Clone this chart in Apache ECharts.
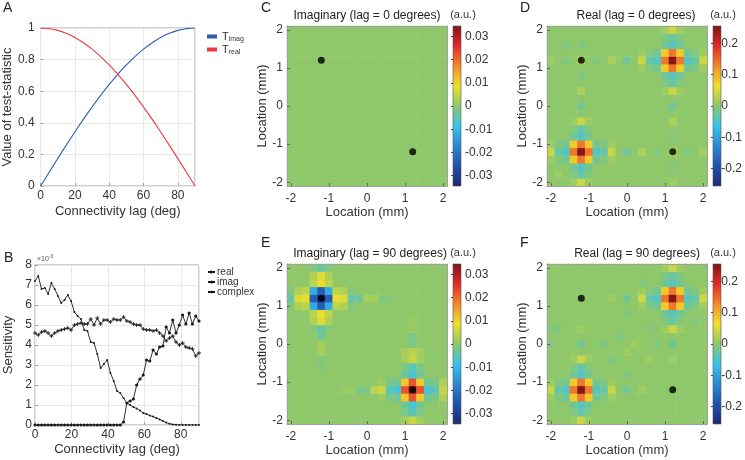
<!DOCTYPE html>
<html><head><meta charset="utf-8">
<script src="https://cdn.jsdelivr.net/npm/echarts@6/dist/echarts.min.js"></script>
<style>html,body{margin:0;padding:0;background:#fff}#c{width:745px;height:460px}</style>
</head><body><div id="c"></div>
<script>
// ---------------- DATA ----------------
// Panel A: test statistic vs connectivity lag
const lagA  = [0,5,10,15,20,25,30,35,40,45,50,55,60,65,70,75,80,85,90];
const tImag = [0,0.087,0.174,0.259,0.342,0.423,0.500,0.574,0.643,0.707,0.766,0.819,0.866,0.906,0.940,0.966,0.985,0.996,1.000];
const tReal = [1.000,0.996,0.985,0.966,0.940,0.906,0.866,0.819,0.766,0.707,0.643,0.574,0.500,0.423,0.342,0.259,0.174,0.087,0];

// Panel B: sensitivity (x 10^-3) vs connectivity lag
const lagB = [0,1.8,3.6,5.4,7.2,9,10.8,12.6,14.4,16.2,18,19.8,21.6,23.4,25.2,27,28.8,30.6,32.4,34.2,36,37.8,39.6,41.4,43.2,45,46.8,48.6,50.4,52.2,54,55.8,57.6,59.4,61.2,63,64.8,66.6,68.4,70.2,72,73.8,75.6,77.4,79.2,81,82.8,84.6,86.4,88.2,90];
const sensReal = [7.2,7.45,6.8,6.85,6.55,7.1,6.8,6.45,6.1,6.25,6.5,6.2,5.65,5.45,5.3,4.75,4.7,4.15,4.1,3.55,2.85,3.05,3.25,2.6,2.2,1.7,1.6,1.35,1.1,1.0,0.9,0.82,0.72,0.6,0.55,0.47,0.42,0.35,0.28,0.2,0.12,0.06,0.03,0.01,0,0,0,0,0,0,0];
const sensImag = [0,0,0,0,0,0,0,0,0,0,0,0,0,0,0,0,0,0,0,0,0,0,0,0,0,0,0,0.15,1.1,1.2,1.3,2.0,2.3,2.5,3.25,3.2,3.75,3.55,3.9,3.95,4.9,4.6,5.25,4.6,5.0,5.5,5.05,5.6,5.05,5.45,5.2];
const sensComplex = [4.6,4.5,4.65,4.7,4.6,4.45,4.6,4.7,4.75,4.8,4.85,4.75,5.0,5.05,5.1,5.05,5.05,5.3,5.0,5.35,5.05,5.25,5.25,5.15,5.3,5.25,5.25,5.4,5.2,5.15,5.05,5.0,5.0,4.8,4.75,4.75,4.7,4.75,4.6,4.45,4.2,4.35,4.45,4.15,4.0,4.1,3.9,3.85,3.8,3.45,3.6];

// Maps: cell centres (mm), 21 x 21, rows listed from top (y = 2.0) to bottom (y = -2.0)
const cellLoc = [-2.0,-1.8,-1.6,-1.4,-1.2,-1.0,-0.8,-0.6,-0.4,-0.2,0,0.2,0.4,0.6,0.8,1.0,1.2,1.4,1.6,1.8,2.0];
const locTicks = [-2,-1,0,1,2];
const sourceDots = [[-1.2,1.2],[1.2,-1.2]];
const cbTicksImag = [-0.03,-0.02,-0.01,0,0.01,0.02,0.03];
const cbTicksReal = [-0.2,-0.1,0,0.1,0.2];
const IMAG_UNIT = 0.001;  // imaginary maps listed in 10^-3 a.u.
const REAL_UNIT = 0.01;   // real maps listed in 10^-2 a.u.

// C: Imaginary, lag = 0 (x 10^-3)
const imagLag0 = [
[0,0,0,0,0,0,0,0,0,0,0,0,0,0,0,0,0,0,0,0,0],
[0,0,0,0,0,0,0,0,0,0,0,0,0,0,0,0,0,0,0,0,0],
[0,0,0,0,0,0,0,0,0,0,0,0,0,0,0,0,0,0,0,0,0],
[0,0,0,0,0,0,0,0,0,0,0,0,0,0,0,0,0,0,0,0,0],
[0,0,0,0,0,0,0,0,0,0,0,0,0,0,0,0,0,0,0,0,0],
[0,0,0,0,0,0,0,0,0,0,0,0,0,0,0,0,0,0,0,0,0],
[0,0,0,0,0,0,0,0,0,0,0,0,0,0,0,0,0,0,0,0,0],
[0,0,0,0,0,0,0,0,0,0,0,0,0,0,0,0,0,0,0,0,0],
[0,0,0,0,0,0,0,0,0,0,0,0,0,0,0,0,0,0,0,0,0],
[0,0,0,0,0,0,0,0,0,0,0,0,0,0,0,0,0,0,0,0,0],
[0,0,0,0,0,0,0,0,0,0,0,0,0,0,0,0,0,0,0,0,0],
[0,0,0,0,0,0,0,0,0,0,0,0,0,0,0,0,0,0,0,0,0],
[0,0,0,0,0,0,0,0,0,0,0,0,0,0,0,0,0,0,0,0,0],
[0,0,0,0,0,0,0,0,0,0,0,0,0,0,0,0,0,0,0,0,0],
[0,0,0,0,0,0,0,0,0,0,0,0,0,0,0,0,0,0,0,0,0],
[0,0,0,0,0,0,0,0,0,0,0,0,0,0,0,0,0,0,0,0,0],
[0,0,0,0,0,0,0,0,0,0,0,0,0,0,0,0,0,0,0,0,0],
[0,0,0,0,0,0,0,0,0,0,0,0,0,0,0,0,0,0,0,0,0],
[0,0,0,0,0,0,0,0,0,0,0,0,0,0,0,0,0,0,0,0,0],
[0,0,0,0,0,0,0,0,0,0,0,0,0,0,0,0,0,0,0,0,0],
[0,0,0,0,0,0,0,0,0,0,0,0,0,0,0,0,0,0,0,0,0]];

// D: Real, lag = 0 (x 10^-2)
const realLag0 = [
[0,0,0,0,0,0,0,0,0,0,0,0,0,0,0,1,4,1,0,0,0],
[0,0,0,0,0,0,0,0,0,0,0,0,0,0,0,-1,-3,-1,0,0,0],
[0,0,-1,0,-1,0,0,0,0,0,0,0,0,0,0,-2,-4,-2,0,0,0],
[0,0,0,0,0,0,0,0,0,0,0,0,1,-1,-2,8,14,8,-2,-1,1],
[1,0,-1,0,3,0,-1,0,2,0,-2,0,4,-3,-4,14,25,14,-4,-3,4],
[0,0,0,0,0,0,0,0,0,0,0,0,1,-1,-2,8,14,8,-2,-1,1],
[0,0,0,0,-1,0,0,0,0,0,0,0,0,0,0,-2,-4,-2,0,0,0],
[0,0,0,0,0,0,0,0,0,0,0,0,0,0,0,-1,-3,-1,0,0,0],
[0,0,0,0,2,0,0,0,0,0,0,0,0,0,0,1,4,1,0,0,0],
[0,0,0,0,0,0,0,0,0,0,0,0,0,0,0,0,0,0,0,0,0],
[0,0,0,0,-2,0,0,0,0,0,0,0,0,0,0,0,-2,0,0,0,0],
[0,0,0,0,0,0,0,0,0,0,0,0,0,0,0,0,0,0,0,0,0],
[0,0,0,1,4,1,0,0,0,0,0,0,0,0,0,0,2,0,0,0,0],
[0,0,0,-1,-3,-1,0,0,0,0,0,0,0,0,0,0,0,0,0,0,0],
[0,0,0,-2,-4,-2,0,0,0,0,0,0,0,0,0,0,-1,0,0,0,0],
[1,-1,-2,8,14,8,-2,-1,1,0,0,0,0,0,0,0,0,0,0,0,0],
[4,-3,-4,14,25,14,-4,-3,4,0,-2,0,2,0,-1,0,3,0,-1,0,1],
[1,-1,-2,8,14,8,-2,-1,1,0,0,0,0,0,0,0,0,0,0,0,0],
[0,0,0,-2,-4,-2,0,0,0,0,0,0,0,0,0,0,-1,0,0,0,0],
[0,1,0,-1,-3,-1,0,0,0,0,0,0,0,0,0,0,0,0,0,0,0],
[0,0,0,1,4,1,0,0,0,0,0,0,0,0,0,0,1,0,0,0,0]];

// E: Imaginary, lag = 90 (x 10^-3)
const imagLag90 = [
[0,0,0,-1,-4,-1,0,0,0,0,0,0,0,0,0,0,0,0,0,0,0],
[0,0,0,3,7,3,0,0,0,0,0,0,0,0,0,0,0,0,0,0,0],
[0,0,0,4,8,4,0,0,0,0,0,0,0,0,0,0,0,0,0,0,0],
[-1,3,4,-12,-24,-12,4,3,-1,0,0,0,0,0,0,0,0,0,0,0,0],
[-4,7,8,-24,-33,-24,8,7,-4,-3,2,2,-1,-1,0,0,0,0,0,0,0],
[-1,3,4,-12,-24,-12,4,3,-1,0,0,0,0,0,0,0,0,0,0,0,0],
[0,0,0,4,8,4,0,0,0,0,0,0,0,0,0,0,0,0,0,0,0],
[0,0,0,3,7,3,0,0,0,0,0,0,0,0,0,0,1,0,0,0,0],
[0,0,0,-1,-4,-1,0,0,0,0,0,0,0,0,0,0,1,0,0,0,0],
[0,0,0,0,-3,0,0,0,0,0,0,0,0,0,0,0,-2,0,0,0,0],
[0,0,0,0,2,0,0,0,0,0,0,0,0,0,0,0,-2,0,0,0,0],
[0,0,0,0,2,0,0,0,0,0,0,0,0,0,0,2,4,2,0,0,0],
[0,0,0,0,-1,0,0,0,0,0,0,0,0,0,0,2,5,2,0,0,0],
[0,0,0,0,-1,0,0,0,0,0,0,0,0,0,0,-2,-5,-2,0,0,0],
[0,0,0,0,0,0,0,0,0,0,0,0,0,0,0,-3,-7,-3,0,0,0],
[0,0,0,0,0,0,0,0,0,0,0,0,1,-2,-3,11,22,11,-3,-2,3],
[0,0,0,0,0,0,0,1,1,-2,-2,4,5,-5,-7,22,33,22,-7,-5,5],
[0,0,0,0,0,0,0,0,0,0,0,0,1,-2,-3,11,22,11,-3,-2,3],
[0,0,0,0,0,0,0,0,0,0,0,0,0,0,0,-3,-7,-3,0,0,0],
[0,0,0,0,0,0,0,0,0,0,0,0,0,0,0,-2,-5,-2,0,0,0],
[0,0,0,0,0,0,0,0,0,0,0,0,0,0,0,2,5,2,0,0,0]];

// F: Real, lag = 90 (x 10^-2)
const realLag90 = [
[0,0,0,0,0,0,0,0,0,0,0,0,0,0,0,1,4,1,0,0,0],
[0,0,0,0,0,0,0,0,0,0,0,0,0,0,0,-1,-3,-1,0,0,0],
[0,0,0,0,0,0,0,0,0,0,0,0,-1,0,0,-2,-4,-2,0,0,0],
[0,0,0,0,0,0,0,0,0,0,0,0,1,-1,-2,8,14,8,-2,-1,1],
[0,0,0,0,0,0,0,0,1,0,-2,0,4,-3,-4,14,25,14,-4,-3,4],
[0,0,0,0,0,0,0,0,0,0,0,0,1,-1,-2,8,14,8,-2,-1,1],
[0,0,0,0,0,0,0,0,0,0,-1,0,0,0,0,-2,-4,-2,0,0,0],
[0,0,0,0,0,0,0,0,0,0,0,0,0,0,0,-1,-3,-1,0,-1,0],
[-1,-1,0,0,1,0,0,0,0,0,0,0,0,-1,0,1,4,1,0,0,0],
[0,0,0,0,0,0,0,0,0,-1,0,0,0,0,0,0,0,0,0,0,0],
[-1,0,0,0,-2,0,0,-1,0,0,0,1,0,0,-1,0,-2,0,0,0,0],
[0,0,0,0,0,0,0,0,0,0,1,0,0,0,0,0,0,0,0,0,0],
[0,0,0,1,4,1,0,0,-1,0,0,0,0,1,0,0,1,0,0,0,0],
[0,0,0,-1,-3,-1,0,0,0,0,0,0,0,0,0,0,0,0,0,0,0],
[0,0,0,-2,-4,-2,0,0,0,0,-1,0,0,0,0,0,0,0,0,0,0],
[1,-1,-2,8,14,8,-2,-1,1,0,0,0,0,0,0,0,0,0,0,0,0],
[4,-3,-4,14,25,14,-4,-3,4,0,-2,0,1,0,0,0,0,0,0,0,0],
[1,-1,-2,8,14,8,-2,-1,1,0,0,0,0,0,0,0,0,0,0,0,0],
[0,0,0,-2,-4,-2,0,0,0,0,0,0,0,0,0,0,0,0,0,0,0],
[0,0,0,-1,-3,-1,0,0,0,0,0,0,0,0,0,0,0,0,0,0,0],
[0,0,0,1,4,1,0,0,0,0,0,0,0,0,0,0,0,0,0,0,0]];

// ---------------- STYLE ----------------
const FONT = 'Liberation Sans, Arial, sans-serif';
const TXT = '#333333';
const AX = '#a0a0a0';
const GL = '#e8e8e8';
const CMAP = ['#1e2a6e','#2150ad','#2a88d2','#38c3ec','#8ec86a','#eee02c','#f4892a','#e2292a','#7d1517'];

const grids=[], xAxes=[], yAxes=[], series=[], visualMaps=[], graphics=[], legends=[];
function addGrid(g){ grids.push(g); return grids.length-1; }
const lbl = (o)=>Object.assign({color:TXT, fontSize:12, fontFamily:FONT}, o||{});

// ---------------- PANEL A ----------------
const gA = addGrid({left:37, top:28, width:158, height:158, show:true, borderColor:AX, borderWidth:1, backgroundColor:'transparent'});
xAxes.push({gridIndex:gA, type:'value', min:0, max:90, interval:20,
  axisLine:{show:false}, axisTick:{inside:true, length:3, lineStyle:{color:AX}},
  axisLabel:lbl({showMaxLabel:false, margin:4}), splitLine:{lineStyle:{color:GL}},
  name:'Connectivity lag (deg)', nameLocation:'middle', nameGap:19, nameTextStyle:lbl({fontSize:13})});
yAxes.push({gridIndex:gA, type:'value', min:0, max:1, interval:0.2,
  axisLine:{show:false}, axisTick:{inside:true, length:3, lineStyle:{color:AX}},
  axisLabel:lbl({margin:6}), splitLine:{lineStyle:{color:GL}},
  name:'Value of test-statistic', nameLocation:'middle', nameGap:23, nameTextStyle:lbl({fontSize:13})});
const iAx = xAxes.length-1, iAy = yAxes.length-1;
series.push({name:'T_imag', type:'line', xAxisIndex:iAx, yAxisIndex:iAy, smooth:true, showSymbol:false,
  data: lagA.map((x,i)=>[x,tImag[i]]), lineStyle:{width:1.1}, color:'#2e5fb0'});
series.push({name:'T_real', type:'line', xAxisIndex:iAx, yAxisIndex:iAy, smooth:true, showSymbol:false,
  data: lagA.map((x,i)=>[x,tReal[i]]), lineStyle:{width:1.1}, color:'#ee3a3a'});
legends.push({data:['T_imag','T_real'], orient:'vertical', left:202, top:26, icon:'rect', itemWidth:10, itemHeight:4, itemGap:1,
  formatter: n => n==='T_imag' ? '{t|T}{s|imag}' : '{t|T}{s|real}',
  textStyle:{color:TXT, fontFamily:FONT, rich:{t:{fontSize:11, fontFamily:FONT, color:TXT}, s:{fontSize:7, fontFamily:FONT, color:TXT, padding:[6,0,0,0]}}}});

// ---------------- PANEL B ----------------
const gB = addGrid({left:35, top:265, width:164, height:160, show:true, borderColor:AX, borderWidth:1, backgroundColor:'transparent'});
xAxes.push({gridIndex:gB, type:'value', min:0, max:90, interval:20,
  axisLine:{show:false}, axisTick:{inside:true, length:3, lineStyle:{color:AX}},
  axisLabel:lbl({showMaxLabel:false, margin:4}), splitLine:{lineStyle:{color:GL}},
  name:'Connectivity lag (deg)', nameLocation:'middle', nameGap:18, nameTextStyle:lbl({fontSize:13})});
yAxes.push({gridIndex:gB, type:'value', min:0, max:8, interval:1,
  axisLine:{show:false}, axisTick:{inside:true, length:3, lineStyle:{color:AX}},
  axisLabel:lbl({margin:3}), splitLine:{lineStyle:{color:GL}},
  name:'Sensitivity', nameLocation:'middle', nameGap:20, nameTextStyle:lbl({fontSize:13})});
const iBx = xAxes.length-1, iBy = yAxes.length-1;
const PLUS = 'path://M4,0H6V4H10V6H6V10H4V6H0V4H4Z';
series.push({name:'real', type:'line', xAxisIndex:iBx, yAxisIndex:iBy, symbol:'circle', symbolSize:2,
  data: lagB.map((x,i)=>[x,sensReal[i]]), lineStyle:{width:0.9}, color:'#1a1a1a'});
series.push({name:'imag', type:'line', xAxisIndex:iBx, yAxisIndex:iBy, symbol:'circle', symbolSize:3.2,
  data: lagB.map((x,i)=>[x,sensImag[i]]), lineStyle:{width:0.9}, color:'#1a1a1a'});
series.push({name:'complex', type:'line', xAxisIndex:iBx, yAxisIndex:iBy, symbol:PLUS, symbolSize:4,
  data: lagB.map((x,i)=>[x,sensComplex[i]]), lineStyle:{width:0.9}, color:'#1a1a1a'});
legends.push({data:['real','imag','complex'], orient:'vertical', left:202, top:262, itemWidth:7, itemHeight:4, itemGap:0,
  textStyle:{color:TXT, fontFamily:FONT, fontSize:10, lineHeight:8, padding:[0,0,0,-3]}});

// ---------------- MAP PANELS ----------------
function mapPanel(rows, unit, lim, L, T, cbL, cbTicks, title, titleX){
  const S = 160;
  const gh = addGrid({left:L, top:T, width:S, height:S});
  xAxes.push({gridIndex:gh, type:'category', data:cellLoc.map(String), show:false});
  yAxes.push({gridIndex:gh, type:'category', data:cellLoc.map(String), show:false});
  const data = [];
  for (let yi=0; yi<cellLoc.length; yi++)
    for (let xi=0; xi<cellLoc.length; xi++)
      data.push([xi, yi, rows[cellLoc.length-1-yi][xi]*unit]);
  series.push({type:'heatmap', xAxisIndex:xAxes.length-1, yAxisIndex:yAxes.length-1, data,
    itemStyle:{borderWidth:0}, emphasis:{disabled:true}, silent:true});
  visualMaps.push({type:'continuous', show:false, seriesIndex:series.length-1, min:-lim, max:lim, dimension:2,
    inRange:{color:CMAP}});
  const gv = addGrid({left:L, top:T, width:S, height:S});
  const tickLbl = v => String(v);
  xAxes.push({gridIndex:gv, type:'value', min:-2.1, max:2.1, position:'bottom', z:10,
    axisLine:{show:true, onZero:false, lineStyle:{color:AX}},
    axisTick:{show:true, inside:true, length:3, customValues:locTicks, lineStyle:{color:'#666'}},
    axisLabel:lbl({customValues:locTicks, margin:7, formatter:tickLbl}), splitLine:{show:false},
    name:'Location (mm)', nameLocation:'middle', nameGap:19, nameTextStyle:lbl({fontSize:13})});
  const vx = xAxes.length-1;
  xAxes.push({gridIndex:gv, type:'value', min:-2.1, max:2.1, position:'top', z:10,
    axisLine:{show:true, onZero:false, lineStyle:{color:AX}}, axisTick:{show:false}, axisLabel:{show:false}, splitLine:{show:false}});
  yAxes.push({gridIndex:gv, type:'value', min:-2.1, max:2.1, position:'left', z:10,
    axisLine:{show:true, onZero:false, lineStyle:{color:AX}},
    axisTick:{show:true, inside:true, length:3, customValues:locTicks, lineStyle:{color:'#666'}},
    axisLabel:lbl({customValues:locTicks, margin:4, formatter:tickLbl}), splitLine:{show:false},
    name:'Location (mm)', nameLocation:'middle', nameGap:16, nameTextStyle:lbl({fontSize:13})});
  const vy = yAxes.length-1;
  yAxes.push({gridIndex:gv, type:'value', min:-2.1, max:2.1, position:'right', z:10,
    axisLine:{show:true, onZero:false, lineStyle:{color:AX}}, axisTick:{show:false}, axisLabel:{show:false}, splitLine:{show:false}});
  series.push({type:'scatter', xAxisIndex:vx, yAxisIndex:vy, data:sourceDots, symbolSize:7, z:5,
    itemStyle:{color:'#000'}, silent:true});
  const n = CMAP.length;
  graphics.push({type:'rect', shape:{x:cbL, y:T, width:8, height:S}, z:1,
    style:{fill:new echarts.graphic.LinearGradient(0,0,0,1, CMAP.map((c,i)=>({offset:i/(n-1), color:CMAP[n-1-i]}))),
      stroke:'#555', lineWidth:0.6}});
  const gc = addGrid({left:cbL, top:T, width:8, height:S});
  xAxes.push({gridIndex:gc, type:'value', show:false});
  yAxes.push({gridIndex:gc, type:'value', min:-lim, max:lim, position:'right', z:10,
    axisLine:{show:false}, axisTick:{show:true, inside:true, length:2, customValues:cbTicks, lineStyle:{color:'#444'}},
    axisLabel:lbl({customValues:cbTicks, margin:4, formatter: v => String(Math.round(v*1000)/1000)}), splitLine:{show:false}});
  graphics.push({type:'text', x:titleX, y:T-10, style:{text:title, fontSize:12, fontFamily:FONT, fill:'#222', align:'center', textAlign:'center', verticalAlign:'middle', textVerticalAlign:'middle'}});
  graphics.push({type:'text', x:cbL+10, y:T-11, style:{text:'(a.u.)', fontSize:11, fontFamily:FONT, fill:TXT, align:'center', textAlign:'center', verticalAlign:'middle', textVerticalAlign:'middle'}});
}

mapPanel(imagLag0,  IMAG_UNIT, 0.0345, 287, 26,  453, cbTicksImag, 'Imaginary (lag = 0 degrees)', 367);
mapPanel(realLag0,  REAL_UNIT, 0.255,  547, 26,  713, cbTicksReal, 'Real (lag = 0 degrees)', 636);
mapPanel(imagLag90, IMAG_UNIT, 0.0345, 287, 264, 453, cbTicksImag, 'Imaginary (lag = 90 degrees)', 370);
mapPanel(realLag90, REAL_UNIT, 0.255,  547, 264, 713, cbTicksReal, 'Real (lag = 90 degrees)', 637);

[['A',3,8],['B',4,258],['C',261,8],['D',520,8],['E',261,243],['F',520,243]].forEach(([t,x,y])=>{
  graphics.push({type:'text', x, y, style:{text:t, fontSize:14, fontFamily:FONT, fill:'#222', verticalAlign:'middle', textVerticalAlign:'middle'}});
});
graphics.push({type:'text', x:37, y:259, style:{text:'{a|×10}{b|-3}', fontFamily:FONT, fill:'#555', verticalAlign:'middle', textVerticalAlign:'middle',
  rich:{a:{fontSize:7, fontFamily:FONT, color:'#555'}, b:{fontSize:5, fontFamily:FONT, color:'#555', padding:[0,0,5,0]}}}});

const chart = echarts.init(document.getElementById('c'), null, {renderer:'canvas', width:745, height:460});
chart.setOption({
  animation:false, backgroundColor:'#fff',
  textStyle:{fontFamily:FONT},
  grid:grids, xAxis:xAxes, yAxis:yAxes, series, visualMap:visualMaps, legend:legends, graphic:graphics
});
</script></body></html>
